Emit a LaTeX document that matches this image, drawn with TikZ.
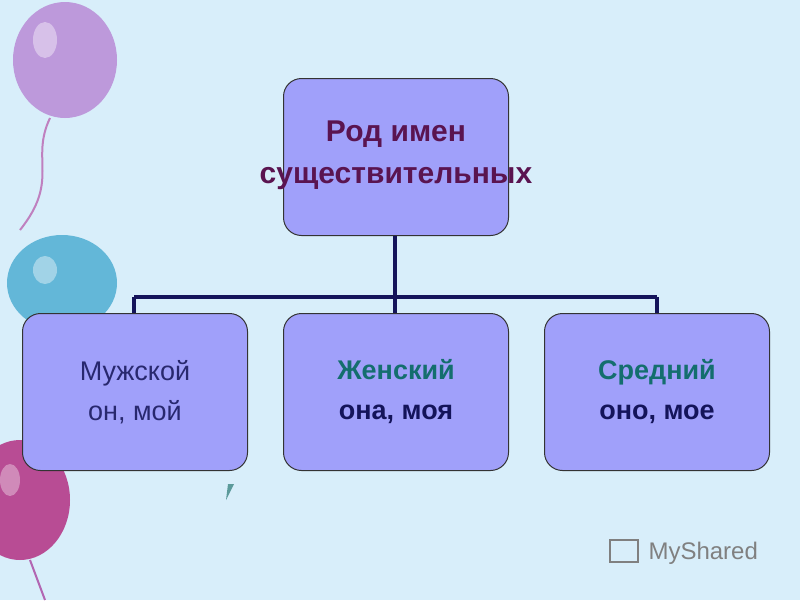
\documentclass[tikz,border=0pt]{standalone}
\usepackage{fontspec}
\setmainfont{Liberation Sans}
\begin{document}
\begin{tikzpicture}[x=1pt,y=-1pt,
  box/.style={draw=black!80,line width=1pt,fill=boxfill,rounded corners=18pt,minimum width=225pt,minimum height=157pt,anchor=north west},
  lbl/.style={align=center,font=\fontsize{27}{40}\selectfont},
  conn/.style={draw=navy,line width=3.5pt}]
\definecolor{bg}{RGB}{216,238,250}
\definecolor{boxfill}{RGB}{160,160,250}
\definecolor{navy}{RGB}{20,20,90}
\definecolor{plum}{RGB}{90,20,80}
\definecolor{teal2}{RGB}{20,110,110}
\definecolor{slate}{RGB}{40,40,110}
\fill[bg] (0,0) rectangle (800,600);
\useasboundingbox (0,0) rectangle (800,600);
% balloons
\fill[blue!30!violet!40] (65,60) ellipse (52 and 58);
\fill[white,opacity=0.4] (45,40) ellipse (12 and 18);
\draw[violet!50,line width=2pt] (50,118) .. controls (30,160) and (60,180) .. (20,230);
\fill[cyan!60!teal!70] (62,283) ellipse (55 and 48);
\fill[white,opacity=0.4] (45,270) ellipse (12 and 14);
\fill[violet!60!purple!70] (20,500) ellipse (50 and 60);
\fill[white,opacity=0.35] (10,480) ellipse (10 and 16);
\draw[violet!60,line width=2pt] (30,560) -- (45,600);
\fill[teal2!70] (228,484) -- (234,484) -- (226,500) -- cycle;
% boxes
\node[box] (top) at (283,78) {};
\node[box] (m) at (22,313) {};
\node[box] (f) at (283,313) {};
\node[box] (n) at (544,313) {};
\node[lbl,font=\fontsize{30}{42}\selectfont] (tl) at ([yshift=2pt]top.center) {\color{plum}\bfseries Род имен\\\color{plum}\bfseries существительных};
\node[lbl] (ml) at (m.center) {\color{slate}Мужской\\\color{slate}он, мой};
\node[lbl] (fl) at (f.center) {\color{teal2}\bfseries Женский\\\color{navy}\bfseries она, моя};
\node[lbl] (nl) at (n.center) {\color{teal2}\bfseries Средний\\\color{navy}\bfseries оно, мое};
\coordinate (j) at (395,297);
\draw[conn] (top.south -| j) -- (j);
\draw[conn] (134,297) coordinate (jl) -- (657,297) coordinate (jr);
\draw[conn] (jl) -- (jl |- m.north);
\draw[conn] (jr) -- (jr |- n.north);
\draw[conn] (j) -- (j |- f.north);
\node[font=\fontsize{24}{28}\selectfont,text=gray,anchor=west] (ms) at (645,553) {MyShared};
\draw[gray,line width=1.5pt] (610,540) rectangle (638,562);
\end{tikzpicture}
\end{document}
